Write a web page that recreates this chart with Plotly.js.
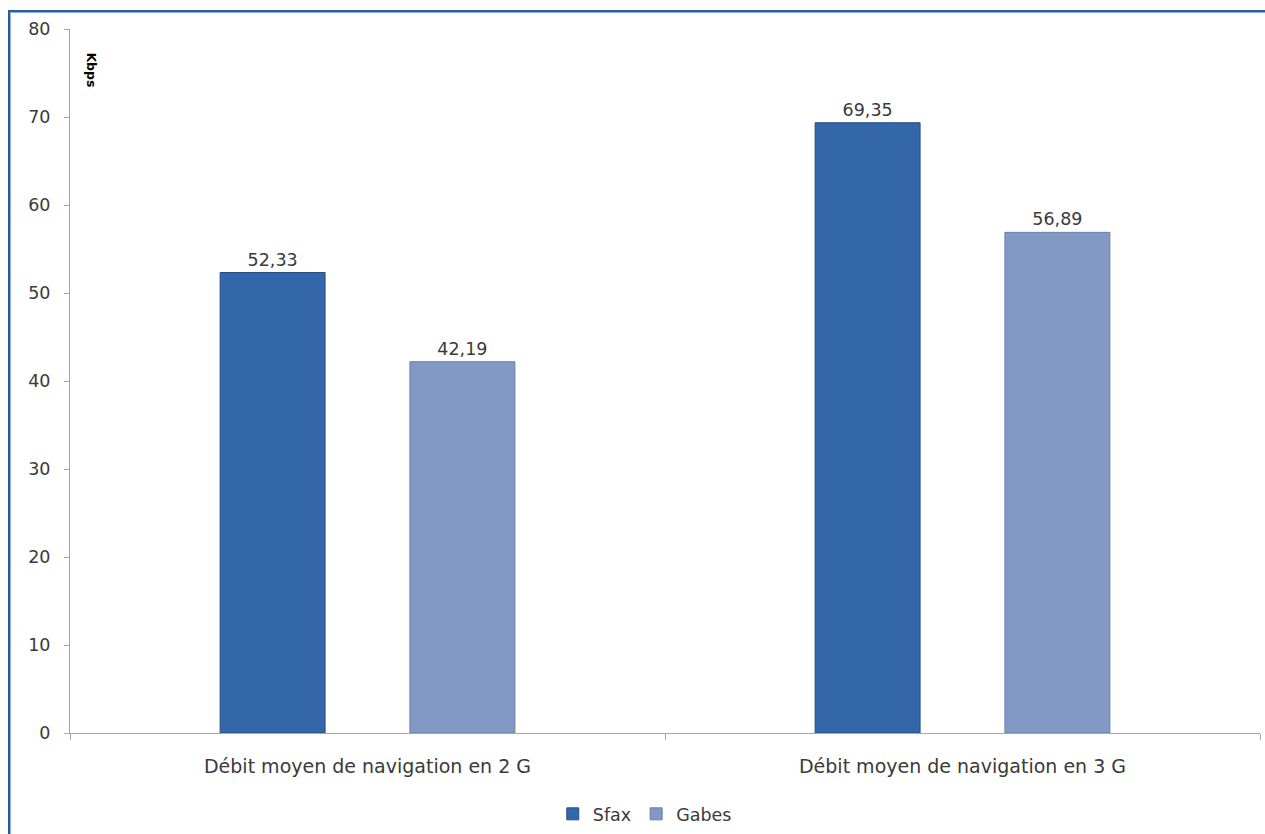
<!DOCTYPE html>
<html>
<head>
<meta charset="utf-8">
<script src="https://cdn.plot.ly/plotly-3.0.1.min.js"></script>
<style>
  html, body { margin: 0; padding: 0; background: #ffffff; }
  #frame { position: absolute; left: 8px; top: 10px; width: 1300px; height: 900px;
           border-left: 2px solid #2f5a9a; border-top: 2px solid #2f5a9a;
           box-shadow: inset 1px 1px 0 #8fb0e0; pointer-events: none; }
  #chart { position: absolute; left: 0; top: 0; width: 1265px; height: 834px; }
</style>
</head>
<body>
<div id="chart"></div>
<div id="frame"></div>
<script>
const categories = ["Débit moyen de navigation en 2 G", "Débit moyen de navigation en 3 G"];
const sfaxValues = [52.33, 69.35];
const gabesValues = [42.19, 56.89];
const seriesNames = ["Sfax", "Gabes"];
const yTicks = [0, 10, 20, 30, 40, 50, 60, 70, 80];
const unitLabel = "Kbps";

const fam = "DejaVu Sans, Verdana, sans-serif";
const textFont = { family: fam, size: 17.5, color: "#3a3a3a" };
const catFont = { family: fam, size: 19, color: "#3a3a3a" };

const traces = [
  {
    type: "bar", name: seriesNames[0], x: categories, y: sfaxValues,
    marker: { color: "#3467aa", line: { color: "#2a4f82", width: 1 } },
    texttemplate: "%{y:.2f}", textposition: "outside", cliponaxis: false,
    textfont: textFont, hoverinfo: "x+y"
  },
  {
    type: "bar", name: seriesNames[1], x: categories, y: gabesValues,
    marker: { color: "#8299c6", line: { color: "#6c7fa6", width: 1 } },
    texttemplate: "%{y:.2f}", textposition: "outside", cliponaxis: false,
    textfont: textFont, hoverinfo: "x+y"
  }
];

const layout = {
  width: 1265, height: 834,
  margin: { l: 70, r: 5, t: 29, b: 101, autoexpand: false },
  paper_bgcolor: "rgba(0,0,0,0)", plot_bgcolor: "#ffffff",
  separators: ", ",
  barmode: "group", bargap: 0.362, bargroupgap: 0.447,
  showlegend: true,
  legend: { orientation: "h", x: 0.483, xanchor: "center", y: -0.115, yanchor: "middle",
            font: textFont, itemwidth: 30, tracegroupgap: 0 },
  xaxis: {
    type: "category", showline: true, linecolor: "#a6a6a6", linewidth: 1,
    ticks: "outside", tickson: "boundaries", ticklen: 6, tickcolor: "#a6a6a6",
    showgrid: false, tickfont: catFont, zeroline: false, ticklabelstandoff: 16
  },
  yaxis: {
    range: [0, 80], tickvals: yTicks, showline: true, linecolor: "#a6a6a6", linewidth: 1,
    ticks: "outside", ticklen: 5, tickcolor: "#a6a6a6", showgrid: false,
    tickfont: textFont, zeroline: false, ticklabelstandoff: 10
  },
  annotations: [
    { text: "<b>" + unitLabel + "</b>", xref: "paper", yref: "paper", x: 0.018, y: 0.942,
      xanchor: "center", yanchor: "middle", showarrow: false, textangle: 90,
      font: { family: fam, size: 12.5, color: "#000000" } }
  ]
};

Plotly.newPlot("chart", traces, layout, { displayModeBar: false, staticPlot: true });
</script>
</body>
</html>
